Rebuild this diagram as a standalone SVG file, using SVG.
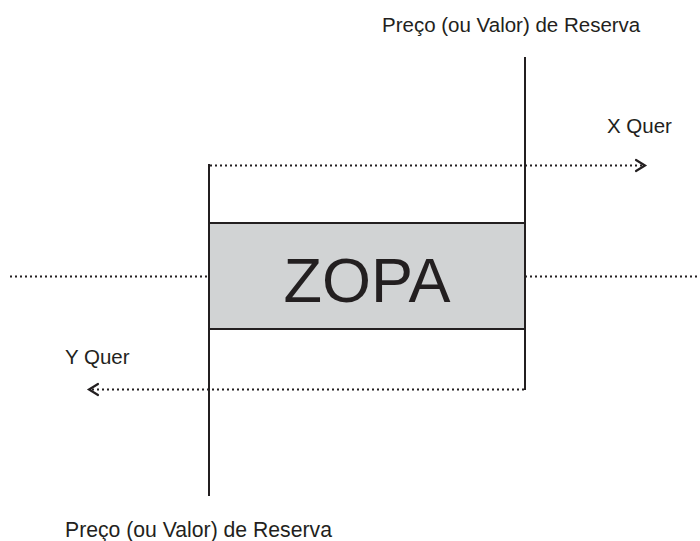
<svg xmlns="http://www.w3.org/2000/svg" width="700" height="541" viewBox="0 0 700 541">
<style>
.lbl{font-family:"Liberation Sans",Arial,sans-serif;font-size:20.5px;fill:#231f20}
.solid{stroke:#231f20;stroke-width:2;fill:none}
.dot{stroke:#231f20;stroke-width:2;fill:none;stroke-dasharray:2 3}
.head{stroke:#231f20;stroke-width:2.2;fill:none;stroke-linecap:round;stroke-linejoin:miter}
</style>
<rect width="700" height="541" fill="#ffffff"/>
<g id="connectors">
<line class="dot" x1="10" y1="276.5" x2="209" y2="276.5"/>
<line class="dot" x1="525" y1="276.5" x2="700" y2="276.5"/>
<line class="dot" x1="210" y1="165.5" x2="644" y2="165.5"/>
<polyline class="head" points="636,160 645,165.5 636,171"/>
<line class="dot" x1="524" y1="389.5" x2="90" y2="389.5"/>
<polyline class="head" points="98,384 89,389.5 98,395"/>
<line class="solid" x1="209" y1="164" x2="209" y2="496"/>
<line class="solid" x1="525" y1="57" x2="525" y2="390"/>
</g>
<g id="zopa">
<rect x="209" y="223" width="316" height="106" fill="#d1d3d4" stroke="#231f20" stroke-width="2"/>
<text x="367" y="302" text-anchor="middle" font-family="Liberation Sans, Arial, sans-serif" font-size="63" fill="#231f20">ZOPA</text>
</g>
<g id="label-top"><text class="lbl" x="382" y="32">Preço (ou Valor) de Reserva</text></g>
<g id="label-bottom"><text class="lbl" x="65" y="537" style="font-size:21.2px">Preço (ou Valor) de Reserva</text></g>
<g id="label-x"><text class="lbl" x="607" y="133">X Quer</text></g>
<g id="label-y"><text class="lbl" x="65" y="364">Y Quer</text></g>
</svg>
